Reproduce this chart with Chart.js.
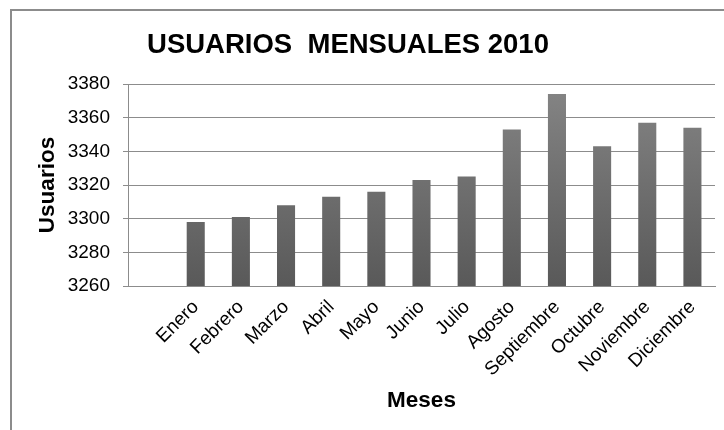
<!DOCTYPE html>
<html lang="es">
<head>
  <meta charset="UTF-8" />
  <title>Usuarios mensuales 2010</title>
  <script src="https://cdn.jsdelivr.net/npm/chart.js"></script>
  <style>
    * { margin: 0; padding: 0; box-sizing: border-box; }
    body { background: #fff; width: 724px; height: 430px; overflow: hidden; position: relative; }
    .frame {
      position: absolute; left: 10px; top: 9px; width: 800px; height: 500px;
      border-top: 2px solid #8c8c8c; border-left: 2px solid #8c8c8c;
    }
    .wrap { position: absolute; left: 0; top: 0; width: 724px; height: 430px; }
  </style>
</head>
<body>
  <div class="frame"></div>
  <div class="wrap"><canvas id="chart"></canvas></div>

  <script>
    // first slot is left empty, like in the original sheet
    const meses = ['', 'Enero', 'Febrero', 'Marzo', 'Abril', 'Mayo', 'Junio', 'Julio',
      'Agosto', 'Septiembre', 'Octubre', 'Noviembre', 'Diciembre'];
    const usuarios = [null, 3298, 3301, 3308, 3313, 3316, 3323, 3325, 3353, 3374, 3343, 3357, 3354];
    const yTicks = [3260, 3280, 3300, 3320, 3340, 3360, 3380];

    const titulo = 'USUARIOS  MENSUALES 2010';
    const fuente = '"Liberation Sans", Arial, sans-serif';

    const tituloPlugin = {
      id: 'tituloPlugin',
      afterDraw(chart) {
        const c = chart.ctx;
        c.save();
        c.font = 'bold 27.5px ' + fuente;
        c.fillStyle = '#000';
        c.textAlign = 'center';
        c.textBaseline = 'alphabetic';
        c.fillText(titulo, 348, 53);
        c.restore();
      }
    };

    function barGradient(context) {
      const chart = context.chart;
      const area = chart.chartArea;
      if (!area) return '#777';
      const g = chart.ctx.createLinearGradient(0, area.top, 0, area.bottom);
      g.addColorStop(0, '#858585');
      g.addColorStop(1, '#595959');
      return g;
    }

    new Chart(document.getElementById('chart'), {
      type: 'bar',
      data: {
        labels: meses,
        datasets: [{
          data: usuarios,
          backgroundColor: barGradient,
          borderWidth: 0,
          categoryPercentage: 1,
          barPercentage: 0.4
        }]
      },
      options: {
        responsive: true,
        maintainAspectRatio: false,
        animation: false,
        layout: { padding: { top: 84, right: 9, left: 0, bottom: 0 } },
        plugins: {
          legend: { display: false },
          tooltip: { enabled: false }
        },
        scales: {
          x: {
            grid: { display: false, drawTicks: false },
            border: { display: true, color: '#8c8c8c', width: 1 },
            ticks: {
              color: '#000',
              font: { family: fuente, size: 19 },
              maxRotation: 45,
              minRotation: 45,
              padding: 10,
              autoSkip: false
            },
            title: {
              display: true,
              text: 'Meses',
              color: '#000',
              font: { family: fuente, size: 22.5, weight: 'bold' },
              padding: { top: 0, bottom: 16 }
            },
            afterFit(scale) { scale.height = 144; }
          },
          y: {
            min: 3260,
            max: 3380,
            afterBuildTicks(scale) { scale.ticks = yTicks.map(v => ({ value: v })); },
            grid: { color: '#8c8c8c', lineWidth: 1, tickLength: 5 },
            border: { display: true, color: '#8c8c8c', width: 1 },
            ticks: {
              color: '#000',
              font: { family: fuente, size: 19 },
              padding: 13,
              callback: v => String(v)
            },
            title: {
              display: true,
              text: 'Usuarios',
              color: '#000',
              font: { family: fuente, size: 22.5, weight: 'bold' },
              padding: { top: 34, bottom: 0 }
            },
            afterFit(scale) { scale.width = 128; }
          }
        }
      },
      plugins: [tituloPlugin]
    });
  </script>
</body>
</html>
